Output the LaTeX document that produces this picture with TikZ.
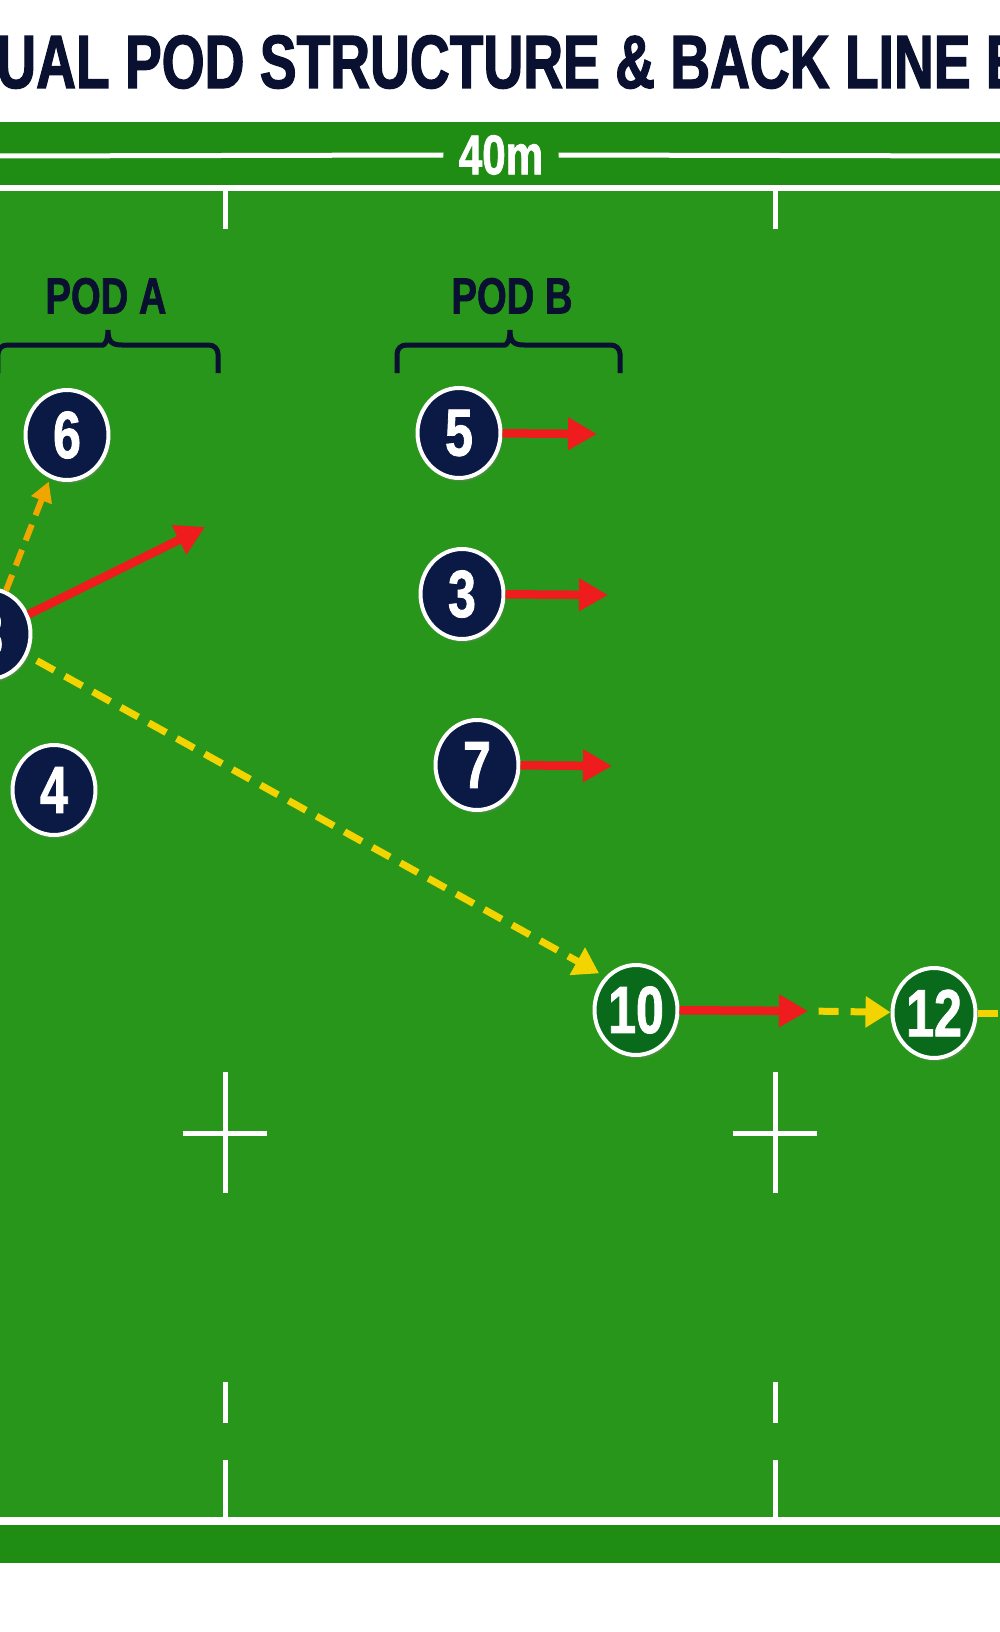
\documentclass[tikz,border=0pt]{standalone}
\usepackage{fontspec}
\usetikzlibrary{arrows.meta,shapes.geometric,shadows}
\newfontfamily\condfont[FakeStretch=0.75,FakeBold=1.2]{Liberation Sans}
\newfontfamily\titlefont[FakeStretch=0.73,FakeBold=1.6]{Liberation Sans}
\definecolor{fieldgreen}{HTML}{27961A}
\definecolor{bandgreen}{HTML}{1F8C13}
\definecolor{navy}{HTML}{0B1A44}
\definecolor{titlenavy}{HTML}{0A1030}
\definecolor{podgreen}{HTML}{0A6A1C}
\definecolor{runred}{HTML}{EE1C1C}
\definecolor{passyellow}{HTML}{F4D400}
\definecolor{passorange}{HTML}{F0A500}

\begin{document}
\begin{tikzpicture}[x=0.02cm,y=-0.02cm,
    player/.style={ellipse,draw=white,line width=0.08cm,fill=navy,
      minimum width=1.66cm,minimum height=1.8cm,inner sep=0pt,text=white,
      font=\condfont\bfseries\fontsize{38}{38}\selectfont,
      drop shadow={shadow xshift=0.04cm,shadow yshift=-0.07cm,opacity=0.35}},
    back/.style={player,fill=podgreen},
    fieldline/.style={draw=white,line width=0.1cm},
    podlabel/.style={text=titlenavy,font=\condfont\bfseries\fontsize{29}{29}\selectfont},
    podbrace/.style={draw=titlenavy,line width=0.1cm},
    run/.style={draw=runred,line width=0.17cm,-{Triangle[length=0.58cm,width=0.62cm]}},
    pass/.style={draw=passyellow,line width=0.14cm,dash pattern=on 0.4cm off 0.24cm,
      -{Triangle[length=0.5cm,width=0.6cm]}},
    passline/.style={draw=passyellow,line width=0.14cm,dash pattern=on 0.4cm off 0.24cm},
    popup/.style={draw=passorange,line width=0.12cm,dash pattern=on 0.34cm off 0.2cm,
      -{Triangle[length=0.4cm,width=0.42cm]}}]
  \useasboundingbox (0,0) rectangle (1000,1632);
  \fill[white] (0,0) rectangle (1000,1632);

  % title
  \node[anchor=base west,inner sep=0pt,text=titlenavy,
    font=\titlefont\bfseries\fontsize{43}{43}\selectfont] (title) at (-4,88)
    {UAL POD STRUCTURE \& BACK LINE E};

  % pitch
  \fill[bandgreen] (0,122) rectangle (1000,1563);
  \fill[fieldgreen] (0,188) rectangle (1000,1521);
  \draw[fieldline,line width=0.12cm] (0,188) -- (1000,188);
  \draw[fieldline,line width=0.16cm] (0,1521) -- (1000,1521);
  \foreach \x in {225,775} {
    \draw[fieldline] (\x,188) -- (\x,229);
    \draw[fieldline] (\x,1072) -- (\x,1193);
    \draw[fieldline] (\x-42,1133) -- (\x+42,1133);
    \draw[fieldline] (\x,1382) -- (\x,1423);
    \draw[fieldline] (\x,1460) -- (\x,1521);
  }

  % width marker
  \coordinate (dimL) at (0,156);
  \coordinate (dimR) at (1000,156);
  \node[text=white,inner xsep=0.3cm,font=\condfont\bfseries\fontsize{32}{32}\selectfont] (dim) at (501,155) {40m};
  \draw[fieldline] (dimL) -- (dim.west) (dim.east) -- (dimR);

  % pods
  \node[podlabel] (podA) at (106,296) {POD A};
  \node[podlabel] (podB) at (512,296) {POD B};
  \draw[podbrace] (-2,373) [rounded corners=0.18cm] |- (94,345) [sharp corners]
    .. controls (104,345) and (108,342) .. (108,330)
    .. controls (108,342) and (112,345) .. (122,345) [rounded corners=0.18cm] -| (218,373);
  \draw[podbrace] (397,373) [rounded corners=0.18cm] |- (496,345) [sharp corners]
    .. controls (506,345) and (510,342) .. (510,330)
    .. controls (510,342) and (514,345) .. (524,345) [rounded corners=0.18cm] -| (620,373);

  % players
  \node[player] (p6) at (67,435) {6};
  \node[player] (p8) at (-11,634) {8};
  \node[player] (p4) at (54,790) {4};
  \node[player] (p5) at (459,433) {5};
  \node[player] (p3) at (462,594) {3};
  \node[player] (p7) at (477,765) {7};
  \node[back] (p10) at (636,1010) {10};
  \node[back] (p12) at (934,1013) {12};

  % lines of run
  \coordinate (r5) at (597,434);
  \coordinate (r3) at (608,595);
  \coordinate (r7) at (612,766);
  \coordinate (r8) at (205,527);
  \coordinate (r10) at (808,1011);
  \coordinate (off12) at (1040,1013);
  \draw[run] (p5) -- (r5);
  \draw[run] (p3) -- (r3);
  \draw[run] (p7) -- (r7);
  \draw[run] (p8) -- (r8);
  \draw[run] (p10) -- (r10);

  % passes
  \draw[popup,shorten >=2pt] (p8) -- (p6);
  \draw[pass,shorten <=6pt,shorten >=4pt] (p8) -- (p10.north west);
  \draw[pass,shorten <=6pt] (r10) -- (p12);
  \draw[passline] (p12) -- (off12);
\end{tikzpicture}
\end{document}
